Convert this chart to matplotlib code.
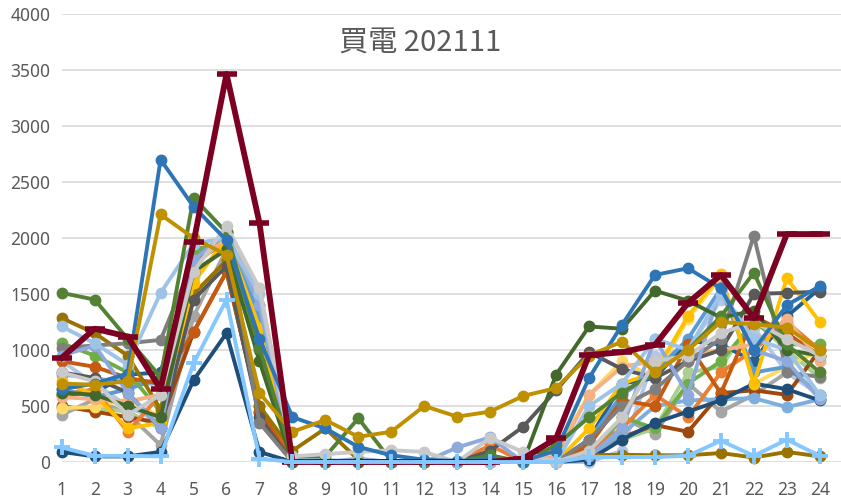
import matplotlib
matplotlib.use("Agg")
import matplotlib.pyplot as plt

plt.rcParams['font.family'] = ['Noto Sans', 'Noto Sans CJK TC', 'DejaVu Sans']

hours = list(range(1, 24 + 1))
title = '買電 202111'

# 每條線: (顏色, 24小時數值)
series = [
    ('#A5A5A5', [420, 560, 430, 150, 1300, 1900, 1000, 20, 0, 0, 0, 0, 0, 0, 0, 0, 0, 400, 250, 700, 450, 600, 800, 600]),
    ('#B4C7E7', [900, 700, 500, 350, 1650, 1950, 1350, 0, 0, 0, 0, 0, 0, 0, 0, 0, 0, 100, 950, 1000, 1450, 1200, 800, 600]),
    ('#A9D08E', [480, 480, 450, 300, 1850, 1950, 1300, 0, 0, 0, 0, 0, 0, 0, 0, 0, 100, 200, 300, 800, 850, 1270, 1000, 750]),
    ('#9E480E', [500, 450, 400, 350, 1160, 1700, 450, 0, 0, 0, 0, 0, 0, 0, 0, 0, 100, 220, 330, 270, 615, 640, 600, 1000]),
    ('#7CAFDD', [780, 750, 700, 700, 1700, 1900, 1400, 0, 0, 0, 0, 0, 0, 0, 0, 0, 50, 250, 500, 550, 560, 570, 490, 560]),
    ('#255E91', [600, 620, 780, 800, 1800, 1950, 1200, 0, 0, 0, 0, 0, 0, 0, 0, 0, 200, 700, 750, 1080, 1050, 900, 1300, 1550]),
    ('#FFD966', [480, 490, 560, 400, 1900, 1950, 1300, 0, 0, 0, 0, 0, 0, 0, 0, 100, 600, 900, 750, 1280, 1650, 700, 850, 1000]),
    ('#5B9BD5', [650, 580, 650, 750, 1850, 2000, 1300, 50, 0, 0, 0, 0, 0, 0, 0, 0, 200, 600, 800, 1100, 1550, 800, 850, 600]),
    ('#70AD47', [1060, 950, 800, 450, 1900, 1950, 1000, 0, 0, 0, 0, 0, 0, 0, 0, 0, 30, 400, 300, 700, 900, 1250, 1050, 1050]),
    ('#ED7D31', [600, 650, 270, 600, 1700, 1900, 500, 30, 0, 0, 0, 0, 0, 150, 0, 0, 100, 300, 600, 400, 800, 1000, 1250, 1000]),
    ('#C55A11', [900, 850, 750, 700, 1160, 1700, 450, 20, 0, 0, 0, 0, 0, 0, 0, 0, 150, 550, 500, 1050, 615, 1300, 1150, 950]),
    ('#1F4E79', [90, 50, 50, 90, 730, 1150, 90, 0, 0, 0, 0, 0, 0, 0, 0, 0, 20, 200, 350, 450, 550, 700, 650, 550]),
    ('#997300', [1285, 1150, 950, 470, 1500, 1800, 500, 100, 300, 20, 0, 0, 0, 0, 0, 0, 60, 65, 60, 60, 80, 40, 90, 50]),
    ('#FFC000', [720, 600, 300, 350, 1600, 2000, 1200, 0, 0, 0, 0, 0, 0, 0, 0, 0, 300, 700, 800, 1300, 1680, 700, 1640, 1250]),
    ('#F4B183', [580, 560, 540, 600, 1750, 2000, 1550, 50, 0, 0, 0, 0, 0, 0, 0, 50, 600, 850, 900, 950, 1000, 1050, 1280, 900]),
    ('#595959', [800, 750, 620, 300, 1450, 1750, 400, 0, 0, 0, 0, 0, 0, 100, 315, 640, 980, 830, 750, 900, 1000, 1500, 1510, 1520]),
    ('#7F7F7F', [1020, 1040, 1060, 1090, 1800, 2050, 350, 0, 0, 20, 0, 0, 0, 0, 0, 0, 200, 500, 650, 900, 1100, 2020, 800, 760]),
    ('#8EA9DB', [950, 1040, 620, 300, 1800, 2050, 1400, 0, 0, 30, 0, 0, 130, 220, 0, 0, 50, 300, 1100, 600, 1560, 1000, 900, 560]),
    ('#9DC3E6', [1210, 1060, 870, 1510, 1950, 2000, 1500, 50, 20, 0, 0, 0, 0, 0, 0, 0, 500, 700, 1100, 1000, 1500, 1100, 1000, 600]),
    ('#43682B', [620, 600, 500, 400, 1700, 1900, 900, 0, 0, 0, 0, 0, 0, 50, 0, 780, 1210, 1190, 1530, 1440, 1290, 1350, 1000, 950]),
    ('#548235', [1510, 1450, 1100, 760, 2360, 2050, 1020, 50, 50, 390, 10, 0, 0, 60, 0, 150, 400, 620, 800, 1000, 1300, 1690, 1050, 800]),
    ('#C9C9C9', [800, 720, 420, 600, 1700, 2110, 1550, 50, 70, 90, 105, 90, 0, 215, 90, 0, 100, 400, 900, 950, 1150, 1250, 1100, 950]),
    ('#2E75B6', [650, 700, 790, 2700, 2280, 1980, 1100, 400, 300, 135, 60, 20, 10, 20, 10, 100, 750, 1225, 1670, 1730, 1550, 1000, 1400, 1570]),
    ('#BF9000', [700, 690, 720, 2210, 2000, 1850, 615, 270, 375, 225, 270, 500, 405, 450, 590, 660, 950, 1075, 800, 1000, 1250, 1230, 1200, 1000]),
]
sky_plus = [130, 55, 55, 50, 880, 1450, 30, 0, 0, 0, 0, 0, 0, 0, 0, 0, 45, 45, 45, 55, 190, 55, 200, 55]
red_total = [930, 1190, 1120, 650, 1960, 3465, 2135, 0, 0, 0, 0, 0, 0, 0, 30, 210, 955, 980, 1045, 1420, 1670, 1285, 2035, 2035]

fig = plt.figure(figsize=(8.41, 4.98), dpi=100)
ax = fig.add_axes([61.7 / 841, 36 / 498, 1 - 61.7 / 841, 448 / 498])

for color, vals in series:
    ax.plot(hours, vals, color=color, lw=2.8, marker='o', ms=7.5, clip_on=False)
ax.plot(hours, red_total, color='#7B0021', lw=4.2, marker='_', ms=14, mew=4, clip_on=False)
ax.plot(hours, sky_plus, color='#85C8FF', lw=2.8, marker='+', ms=12, mew=2.8, clip_on=False)

ax.set_xlim(1, 1 + (841 - 61.7) / 32.96)
ax.set_ylim(0, 4000)
ax.set_yticks(range(0, 4001, 500))
ax.set_xticks(hours)
ax.grid(axis='y', color='#D9D9D9', lw=1.2)
ax.set_axisbelow(True)
for s in ax.spines.values():
    s.set_visible(False)
ax.tick_params(length=0, labelsize=12.5, labelcolor='#595959')
ax.tick_params(axis='y', pad=8)
ax.tick_params(axis='x', pad=14)

fig.text(0.5, 1 - 43 / 498, title, ha='center', va='center', fontsize=21, color='#595959',
         family=['Noto Sans CJK TC', 'Noto Sans'])

fig.savefig('out.png', dpi=100)
